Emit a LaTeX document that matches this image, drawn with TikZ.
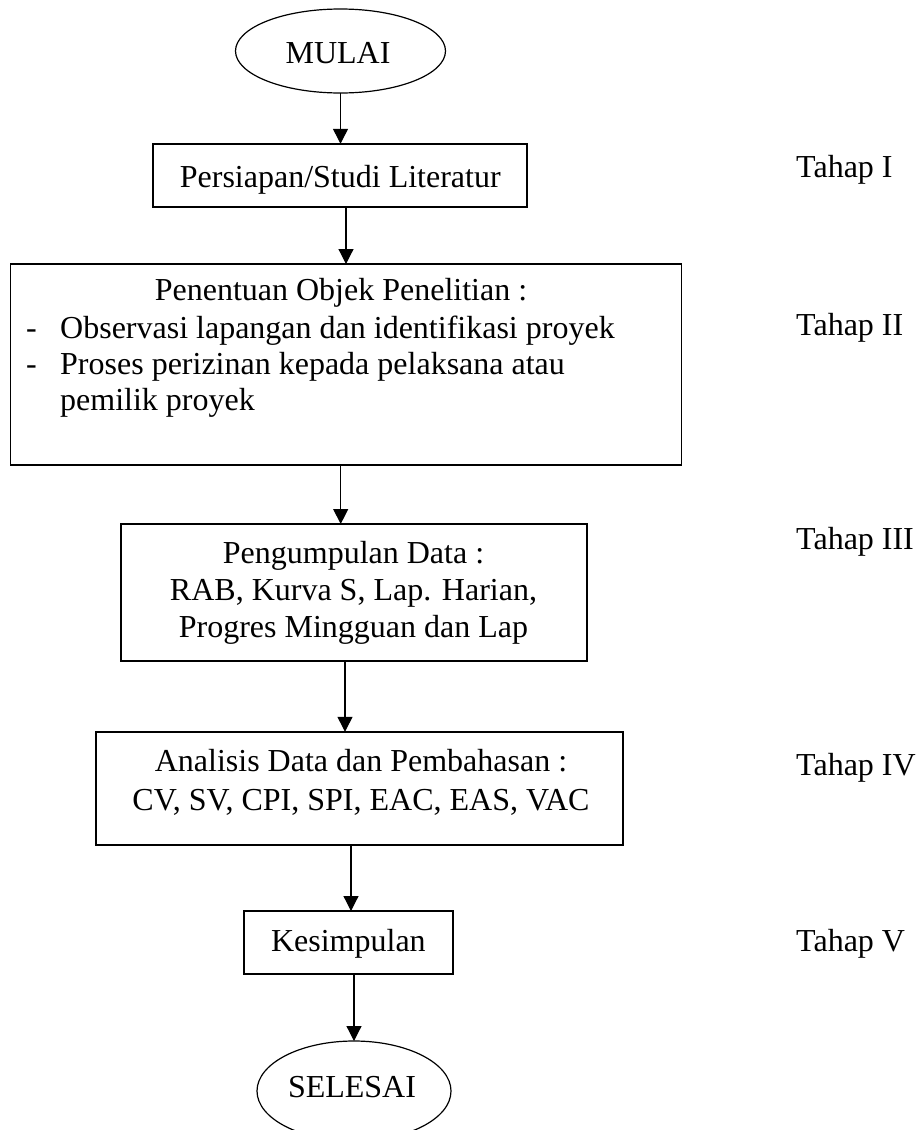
\documentclass[tikz,border=0pt]{standalone}
\usepackage{fontspec}
\setmainfont{Liberation Serif}
\usetikzlibrary{arrows.meta,shapes.geometric}
\begin{document}
\begin{tikzpicture}[x=1pt,y=-1pt,
  box/.style={draw, line width=1.8pt, inner sep=0pt, outer sep=0pt},
  oval/.style={draw, ellipse, line width=1.2pt, inner sep=0pt, outer sep=0pt},
  txt/.style={anchor=base, inner sep=0pt, font=\fontsize{32}{36.8}\selectfont},
  ltxt/.style={anchor=base west, inner sep=0pt, font=\fontsize{32}{36.8}\selectfont},
  arr/.style={-{Triangle[length=15pt,width=15pt]}, line width=1.2pt}]
\clip (0,0) rectangle (916,1130);
\fill[white] (0,0) rectangle (916,1130);

% shapes
\node[oval, minimum width=210pt, minimum height=84pt] (mulai) at (340.5,51) {};
\node[box, minimum width=374pt, minimum height=63pt] (b1) at (340,175.3) {};
\node[box, minimum width=671pt, minimum height=201pt] (b2) at (346,364.5) {};
\node[box, minimum width=466pt, minimum height=137pt] (b3) at (353.8,592.5) {};
\node[box, minimum width=527pt, minimum height=113pt] (b4) at (359.7,788.3) {};
\node[box, minimum width=209pt, minimum height=63pt] (b5) at (348.5,942.5) {};
\node[oval, minimum width=194pt, minimum height=100pt] (sel) at (354,1091) {};

% texts
\node[txt] (tmulai) at (338,63.3) {MULAI};
\node[txt] (t1) at (340.3,187) {Persiapan/Studi Literatur};
\node[txt] (t2a) at (341,300) {Penentuan Objek Penelitian :};
\node[ltxt] (d2b) at (26,338.3) {-};
\node[ltxt] (t2b) at (60,338.3) {Observasi lapangan dan identifikasi proyek};
\node[ltxt] (d2c) at (26,374.5) {-};
\node[ltxt] (t2c) at (60,374.5) {Proses perizinan kepada pelaksana atau};
\node[ltxt] (t2d) at (60,410.7) {pemilik proyek};
\node[txt] (t3a) at (353.5,563) {Pengumpulan Data :};
\node[txt] (t3b) at (353.5,600) {RAB, Kurva S, Lap. Harian,};
\node[txt] (t3c) at (353.5,637) {Progres Mingguan dan Lap};
\node[txt] (t4a) at (361,771.7) {Analisis Data dan Pembahasan :};
\node[txt] (t4b) at (361,810) {CV, SV, CPI, SPI, EAC, EAS, VAC};
\node[txt] (t5) at (348.4,951.7) {Kesimpulan};
\node[txt] (tsel) at (352,1097) {SELESAI};

\node[ltxt] (th1) at (796,177.3) {Tahap I};
\node[ltxt] (th2) at (796,335) {Tahap II};
\node[ltxt] (th3) at (796,549) {Tahap III};
\node[ltxt] (th4) at (796,775.7) {Tahap IV};
\node[ltxt] (th5) at (796,951) {Tahap V};

% connectors
\draw[arr] (mulai.south) -- (mulai.south |- b1.north);
\draw[arr] ([xshift=6pt]b1.south) -- ([xshift=6pt]b1.south |- b2.north);
\draw[arr] ([xshift=-5.3pt]b2.south) -- ([xshift=-5.3pt]b2.south |- b3.north);
\draw[arr] ([xshift=-8.8pt]b3.south) -- ([xshift=-8.8pt]b3.south |- b4.north);
\draw[arr] ([xshift=-8.7pt]b4.south) -- ([xshift=-8.7pt]b4.south |- b5.north);
\draw[arr] ([xshift=5.5pt]b5.south) -- (sel.north);
\end{tikzpicture}
\end{document}
